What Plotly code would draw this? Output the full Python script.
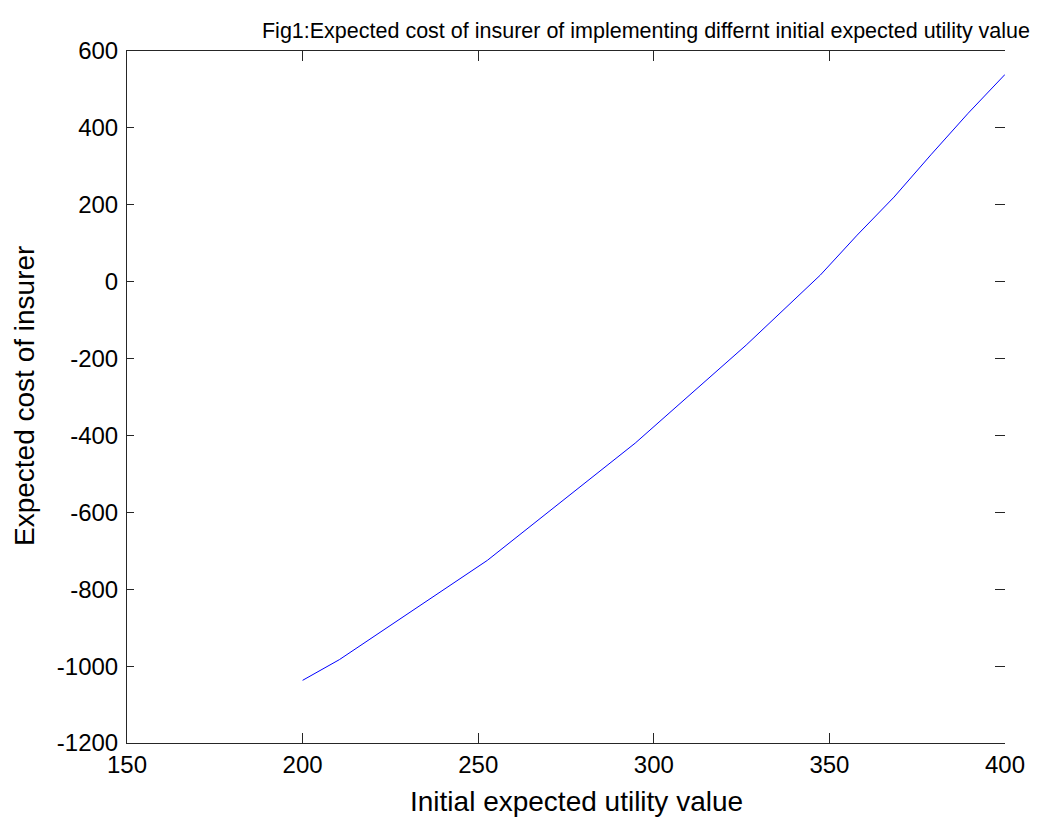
import plotly.graph_objects as go

# Data
x_vals = [200, 210.5, 252.6, 294.7, 326.3, 347.4, 357.9, 368.4, 378.9, 389.5, 400]
y_vals = [-1037, -983, -725, -420, -165, 17, 121, 220, 330, 438, 539]

x_ticks = [150, 200, 250, 300, 350, 400]
y_ticks = [-1200, -1000, -800, -600, -400, -200, 0, 200, 400, 600]
y_tick_labels = ["-1200", "-1000", "-800", "-600", "-400", "-200", "0", "200", "400", "600"]

title_text = "Fig1:Expected cost of insurer of implementing differnt initial expected utility value"
x_label = "Initial expected utility value"
y_label = "Expected cost of insurer"

FONT = "Liberation Sans, Arial, Helvetica, sans-serif"
AX = "#262626"

fig = go.Figure()
fig.add_trace(go.Scatter(x=x_vals, y=y_vals, mode="lines",
                         line=dict(color="#0000ff", width=1),
                         showlegend=False, hoverinfo="skip"))
# invisible trace to carry the right-hand tick axis
fig.add_trace(go.Scatter(x=x_vals, y=y_vals, mode="lines", yaxis="y2",
                         line=dict(color="rgba(0,0,0,0)", width=0),
                         showlegend=False, hoverinfo="skip"))

# page has an 8px body margin; compensate so the plot lands where the reference has it
OFF = 8
W, H = 1044 - OFF, 818 - OFF
L, T = 127 - OFF, 51 - OFF
pw, ph = 878, 692
R, B = W - L - pw, H - T - ph

def px_x(p):  # page pixel x -> paper x
    return (p - OFF - L) / pw

def px_y(p):  # page pixel y -> paper y
    return (T + ph - (p - OFF)) / ph

fig.update_layout(
    width=W, height=H,
    margin=dict(l=L, r=R, t=T, b=B, autoexpand=False),
    paper_bgcolor="white", plot_bgcolor="white",
    font=dict(family=FONT, color="black", size=24),
    xaxis=dict(range=[150, 400], tickvals=x_ticks, ticks="inside", ticklen=10,
               tickwidth=1, tickcolor=AX, showline=True, linecolor=AX, linewidth=1,
               mirror="ticks", showgrid=False, zeroline=False,
               tickfont=dict(size=24, color="black")),
    yaxis=dict(range=[-1200, 600], tickvals=y_ticks, ticktext=y_tick_labels,
               ticks="inside", ticklen=7,
               tickwidth=1, tickcolor=AX, showline=True, linecolor=AX, linewidth=1,
               mirror=False, showgrid=False, zeroline=False,
               tickfont=dict(size=24, color="black"), ticklabelstandoff=3),
    yaxis2=dict(range=[-1200, 600], tickvals=y_ticks, overlaying="y", side="right",
                ticks="inside", ticklen=10, tickwidth=1, tickcolor=AX,
                showline=False, showgrid=False, zeroline=False, showticklabels=False),
    title=dict(text=title_text, x=px_x(646), xref="paper", xanchor="center",
               y=1 - (30 - OFF) / H, yref="container", yanchor="middle",
               font=dict(size=21.5, color="black", family=FONT)),
    annotations=[
        dict(text=x_label, xref="paper", yref="paper", x=px_x(576),
             y=px_y(801), xanchor="center", yanchor="middle",
             showarrow=False, font=dict(size=28, color="black", family=FONT)),
        dict(text=y_label, xref="paper", yref="paper", x=px_x(24),
             y=px_y(396), xanchor="center", yanchor="middle", textangle=-90,
             showarrow=False, font=dict(size=28, color="black", family=FONT)),
    ],
)

fig.write_html("out.html")
